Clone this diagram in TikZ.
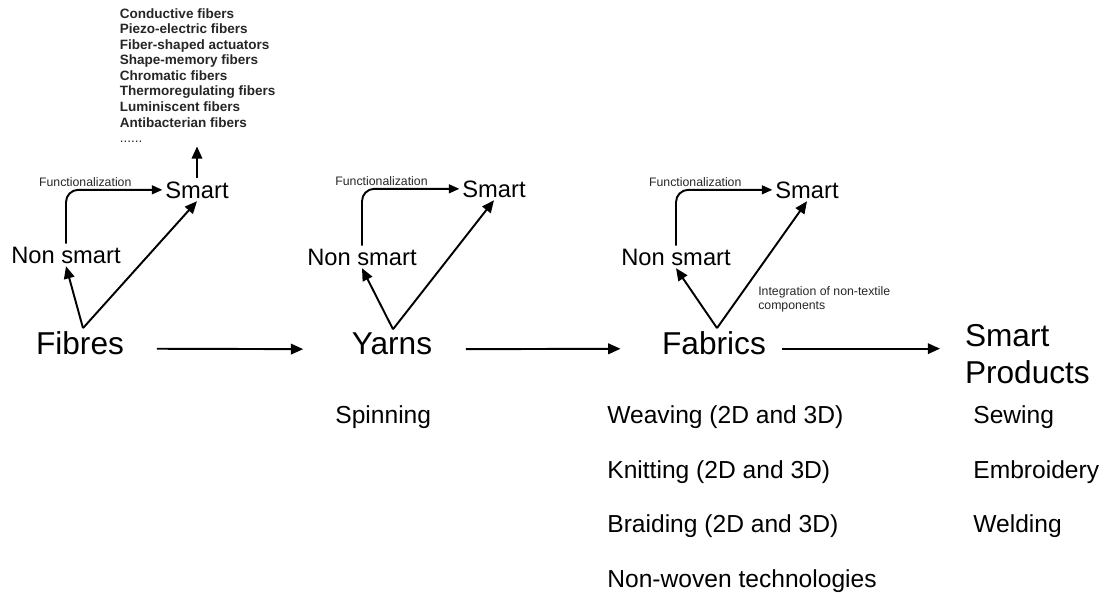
\documentclass[tikz,border=0pt]{standalone}
\usepackage{fontspec}
\setmainfont{Liberation Sans}
\usetikzlibrary{arrows.meta, positioning, calc}

\begin{document}
\begin{tikzpicture}[
    x=0.02cm, y=-0.02cm,
    stage/.style={
        font=\fontsize{18}{20.5}\selectfont,
        inner sep=1.5pt,
        align=left
    },
    state/.style={font=\fontsize{13.5}{16}\selectfont, inner sep=1.5pt},
    tech/.style={font=\fontsize{14}{16}\selectfont, anchor=base west, inner sep=0pt},
    note/.style={font=\fontsize{7}{8}\selectfont, inner sep=1pt, align=left, text=black!85},
    flow/.style={line width=1.1pt, -{Triangle[length=7pt,width=6pt]}},
    link/.style={line width=1.1pt, -{Triangle[length=6pt,width=5pt]}, rounded corners=7pt}
]
    \useasboundingbox (0,0) rectangle (1104,595);

    % Stages
    \node[stage, anchor=base] (fib) at (80,354) {Fibres};
    \node[stage, anchor=base] (yrn) at (392,354) {Yarns};
    \node[stage, anchor=base] (fab) at (714,354) {Fabrics};
    \node[stage, anchor=base west] (prod) at (962,383) {Smart\\Products};

    \draw[flow, shorten <=17pt, shorten >=26pt] ([yshift=-3.4pt]fib.east) -- ([yshift=-3.4pt]yrn.west);
    \draw[flow, shorten <=17.5pt, shorten >=22pt] ([yshift=-3.4pt]yrn.east) -- ([yshift=-3.4pt]fab.west);
    \draw[flow, shorten <=7.5pt, shorten >=12.5pt] ([yshift=-3.4pt]fab.east) -- ([yshift=-3.4pt]fab.east -| prod.west);

    % Non smart / Smart
    \node[state, anchor=base] (ns1) at (66,263) {Non smart};
    \node[state, anchor=base] (sm1) at (197,198) {Smart};
    \node[state, anchor=base] (ns2) at (362,265) {Non smart};
    \node[state, anchor=base] (sm2) at (494,197) {Smart};
    \node[state, anchor=base] (ns3) at (676,265) {Non smart};
    \node[state, anchor=base] (sm3) at (807,198) {Smart};

    \draw[flow] ($(fib.north)+(3,0)$) -- (ns1.south);
    \draw[flow] ($(fib.north)+(3,0)$) -- (sm1.south);
    \draw[flow] ($(yrn.north)+(1,0)$) -- (ns2.south);
    \draw[flow] ($(yrn.north)+(1,0)$) -- (sm2.south);
    \draw[flow] ($(fab.north)+(3,0)$) -- (ns3.south);
    \draw[flow] ($(fab.north)+(3,0)$) -- node[note, pos=0.35, anchor=north west, xshift=4pt]
        {Integration of non-textile\\components} (sm3.south);

    % Functionalization
    \foreach \i in {1,2,3} {
        \draw[link] (ns\i.north) |- node[note, pos=0.6, above] {Functionalization} (sm\i.west);
    }

    % Smart fibres
    \node[anchor=north west, inner sep=2pt, align=left,
          font=\fontsize{7.7}{8.85}\selectfont\bfseries, text=black!85] (lst) at (116,4.5)
        {Conductive fibers\\Piezo-electric fibers\\Fiber-shaped actuators\\Shape-memory fibers\\
         Chromatic fibers\\Thermoregulating fibers\\Luminiscent fibers\\Antibacterian fibers\\
         {\mdseries ......}};
    \draw[flow] (sm1.north) -- (sm1.north |- lst.south);

    % Technologies
    \node[tech] (spin) at (335,423) {Spinning};
    \foreach \y/\t [count=\i] in {423/Weaving (2D and 3D), 478/Knitting (2D and 3D),
                                  532/Braiding (2D and 3D), 587/Non-woven technologies} {
        \node[tech] (fabt\i) at (607,\y) {\t};
    }
    \foreach \y/\t [count=\i] in {423/Sewing, 478/Embroidery, 532/Welding} {
        \node[tech] (prodt\i) at (973,\y) {\t};
    }

\end{tikzpicture}
\end{document}
